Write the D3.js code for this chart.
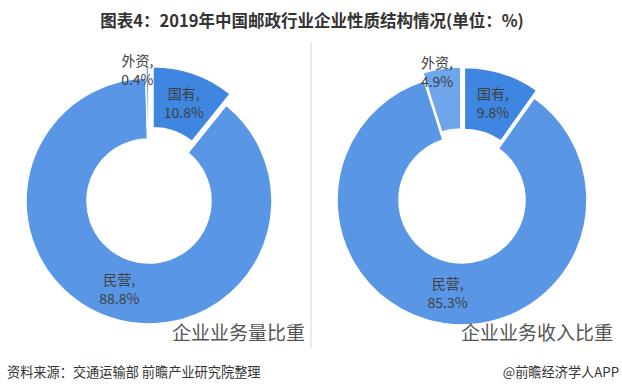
<!DOCTYPE html>
<html>
<head>
<meta charset="utf-8">
<script src="https://cdn.jsdelivr.net/npm/d3@7"></script>
<style>
  body { margin: 0; background: #fff; }
  text { font-family: "Microsoft YaHei", "Noto Sans CJK SC", sans-serif; }
</style>
</head>
<body>
<script>
// data
const categories = ["国有", "民营", "外资"];
const volumeShare = [10.8, 88.8, 0.4];
const revenueShare = [9.8, 85.3, 4.9];
const chartTitles = ["企业业务量比重", "企业业务收入比重"];

const WIDTH = 622;
const HEIGHT = 387;

const colorScale = d3.scaleOrdinal()
    .domain(categories)
    .range(["#3e86e0", "#5997e6", "#6ea6ec"]);
const exploded = ["国有", "外资"];

const charts = [
    {values: volumeShare, title: chartTitles[0], cx: 149, cy: 201, outer: 123, inner: 62, push: 12, titleX: 305, outDx: -10},
    {values: revenueShare, title: chartTitles[1], cx: 462, cy: 200, outer: 125, inner: 63, push: 8, titleX: 613, outDx: -5}
];

var svg = d3.select("body")
    .append("svg")
    .attr("width", WIDTH)
    .attr("height", HEIGHT);

// title
svg.append("text")
    .attr("x", 312)
    .attr("y", 27)
    .attr("text-anchor", "middle")
    .attr("font-size", "16.5px")
    .attr("font-weight", "bold")
    .attr("fill", "#333")
    .text("图表4：2019年中国邮政行业企业性质结构情况(单位：%)");

// divider between the two donuts
svg.append("line")
    .attr("x1", 311).attr("x2", 311)
    .attr("y1", 42).attr("y2", 348)
    .attr("stroke", "#d9d9d9")
    .attr("stroke-width", 1);

var pie = d3.pie().sort(null).value(d => d.value);

charts.forEach(c => {
    var data = categories.map((k, i) => ({name: k, value: c.values[i]}));
    var arcs = pie(data);
    var arc = d3.arc().innerRadius(c.inner).outerRadius(c.outer);
    // small slices get their label next to the ring
    var labelArc = d3.arc().innerRadius(c.outer - 3).outerRadius(c.outer - 3);

    var g = svg.append("g").attr("transform", `translate(${c.cx},${c.cy})`);

    var shift = d => {
        if (exploded.indexOf(d.data.name) < 0) return [0, 0];
        var mid = (d.startAngle + d.endAngle) / 2;
        return [Math.sin(mid) * c.push, -Math.cos(mid) * c.push];
    };

    g.selectAll("path")
        .data(arcs)
        .enter()
        .append("path")
        .attr("d", arc)
        .attr("transform", d => `translate(${shift(d)})`)
        .attr("fill", d => colorScale(d.data.name))
        .attr("stroke", "#fff")
        .attr("stroke-width", 1.5);

    var labels = g.selectAll("g.lbl")
        .data(arcs)
        .enter()
        .append("g")
        .attr("class", "lbl")
        .attr("transform", d => {
            var s = shift(d);
            var small = d.data.value < 6;
            var p = small ? labelArc.centroid(d) : arc.centroid(d);
            var dx = small ? c.outDx : 0;
            return `translate(${p[0] + s[0] + dx},${p[1] + s[1]})`;
        });

    labels.append("text")
        .attr("y", -9.5)
        .attr("text-anchor", "middle")
        .attr("dominant-baseline", "central")
        .attr("font-size", "14px")
        .attr("fill", "#404040")
        .text(d => d.data.name + ",");

    labels.append("text")
        .attr("y", 9.5)
        .attr("text-anchor", "middle")
        .attr("dominant-baseline", "central")
        .attr("font-size", "14px")
        .attr("fill", "#404040")
        .text(d => d.data.value.toFixed(1) + "%");

    svg.append("text")
        .attr("x", c.titleX)
        .attr("y", 340)
        .attr("text-anchor", "end")
        .attr("font-size", "19px")
        .attr("fill", "#555")
        .text(c.title);
});

// footer
svg.append("text")
    .attr("x", 7)
    .attr("y", 377)
    .attr("font-size", "13.2px")
    .attr("fill", "#333")
    .text("资料来源：交通运输部 前瞻产业研究院整理");

svg.append("text")
    .attr("x", 619)
    .attr("y", 377)
    .attr("text-anchor", "end")
    .attr("font-size", "13.2px")
    .attr("fill", "#333")
    .text("@前瞻经济学人APP");
</script>
</body>
</html>
